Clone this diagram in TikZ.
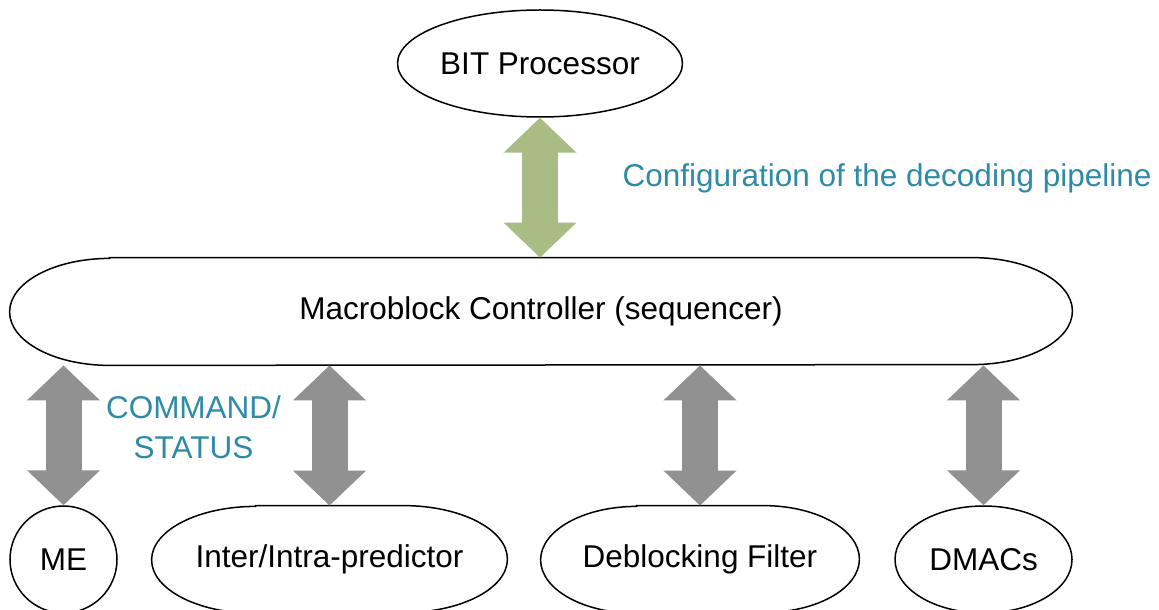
\documentclass[tikz,border=0pt]{standalone}
\usepackage{fontspec}
\setmainfont{Liberation Sans}
\usetikzlibrary{arrows.meta,shapes.geometric}

\definecolor{cfggreen}{RGB}{169,188,132}
\definecolor{cmdgray}{RGB}{145,145,145}
\definecolor{labelteal}{RGB}{46,139,165}

\tikzset{
  unit/.style={ellipse, draw, line width=0.75pt, inner sep=0pt, minimum height=53.5pt},
  pill/.style={rectangle, inner sep=0pt, minimum height=53.5pt},
  bus/.style={line width=18pt, {Triangle[width=35.5pt,length=17.5pt]}-{Triangle[width=35.5pt,length=17.5pt]}},
  note/.style={text=labelteal, align=center}
}

\begin{document}
\begin{tikzpicture}[x=0.5pt, y=-0.5pt, font=\fontsize{15.75}{20}\selectfont]
    \clip (0,0) rectangle (1159,609);
    % processor and controller
    \node[unit, minimum width=142.5pt] (bit) at (540,63.5) {BIT Processor};
    \node[pill, minimum width=531pt] (mbc) at (541,311.5) {Macroblock Controller (sequencer)};
    % units below the controller
    \node[unit, minimum width=53.5pt] (me) at (63.5,559.5) {ME};
    \node[pill, minimum width=177.5pt] (pred) at (329.5,559.5) {Inter/Intra-predictor};
    \node[pill, minimum width=159pt] (dbf) at (700,559.5) {Deblocking Filter};
    \node[unit, minimum width=88.5pt] (dma) at (983.5,559.5) {DMACs};
    % outlines of the long nodes
    \foreach \n/\r in {mbc/50pt, pred/52pt, dbf/48pt}
        \draw[line width=0.75pt] ([xshift=\r]\n.north west) -- ([xshift=-\r]\n.north east)
            arc[start angle=90, end angle=-90, x radius=\r, y radius=26.75pt]
            -- ([xshift=\r]\n.south west)
            arc[start angle=270, end angle=90, x radius=\r, y radius=26.75pt] -- cycle;
    % connectors
    \draw[bus, cfggreen] (bit.south) -- (bit.south |- mbc.north);
    \foreach \n in {me, pred, dbf, dma}
        \draw[bus, cmdgray] (\n.north |- mbc.south) -- (\n.north);
    % labels
    \node[note] (cfg) at (887,178) {Configuration of the decoding pipeline};
    \node[note] (cmd) at (193.5,427) {COMMAND/\\STATUS};
\end{tikzpicture}
\end{document}
